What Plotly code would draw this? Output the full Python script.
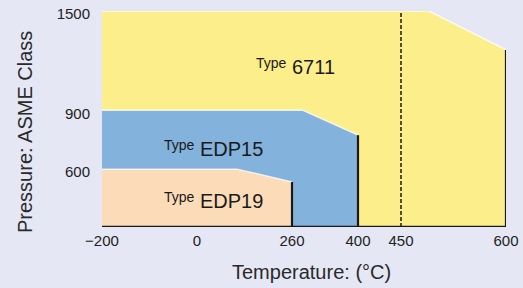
import numpy as np
import plotly.graph_objects as go

# ---------------- data ----------------
x_tick_vals = [-200, 0, 260, 400, 450, 600]          # temperature ticks (°C)
x_tick_text = ["−200", "0", "260", "400", "450", "600"]
y_tick_vals = [600, 900, 1500]                        # ASME class ticks
y_tick_text = ["600", "900", "1500"]
base_class = 300                                      # unlabeled bottom of chart

# envelope of each valve type: (temperature, pressure class)
type6711_temp = [-200, -200, 490, 600, 600]
type6711_pres = [300, 1500, 1500, 1265, 300]
edp15_temp = [-200, -200, 283, 400, 400]
edp15_pres = [300, 900, 900, 773, 300]
edp19_temp = [-200, -200, 110, 260, 260]
edp19_pres = [300, 600, 600, 533, 300]
dashed_temp = 450

labels = ["6711", "EDP15", "EDP19"]
label_temp = [156, -74, -74]
label_pres = [1185, 722, 455]

# ---------------- non-uniform scales of the original ----------------
X_KNOTS = [-200, 0, 260, 400, 450, 600]
X_POS = [0, 95, 190, 256, 299, 404]
Y_KNOTS = [300, 600, 900, 1500]
Y_POS = [0, 58, 117, 216.5]

def fx(t):
    return np.interp(t, X_KNOTS, X_POS)

def fy(p):
    return np.interp(p, Y_KNOTS, Y_POS)

YELLOW = "#fdee8c"
BLUE = "#83b2dc"
PEACH = "#fcdcb8"
BG = "#e5e7f4"
INK = "#1a1a1a"

fig = go.Figure()

for tx, pr, col in [(type6711_temp, type6711_pres, YELLOW),
                    (edp15_temp, edp15_pres, BLUE),
                    (edp19_temp, edp19_pres, PEACH)]:
    fig.add_trace(go.Scatter(x=fx(tx), y=fy(pr), fill="toself", fillcolor=col,
                             mode="lines", line=dict(width=0), hoverinfo="skip",
                             showlegend=False))
    # soft white highlight along the top edge
    fig.add_trace(go.Scatter(x=fx(tx[1:4]), y=fy(pr[1:4]), mode="lines",
                             line=dict(color="rgba(255,255,255,0.75)", width=1.5),
                             hoverinfo="skip", showlegend=False))

# dashed line at 450 °C
fig.add_trace(go.Scatter(x=fx([dashed_temp, dashed_temp]), y=fy([base_class, 1500]),
                         mode="lines", line=dict(color=INK, width=1.5, dash="4px,2px"),
                         hoverinfo="skip", showlegend=False))

# black right-hand limits of each envelope
for tx, pr in [(edp19_temp, edp19_pres), (edp15_temp, edp15_pres),
               (type6711_temp, type6711_pres)]:
    fig.add_trace(go.Scatter(x=fx(tx[3:5]), y=fy(pr[3:5]), mode="lines",
                             line=dict(color=INK, width=2.2), hoverinfo="skip",
                             showlegend=False))

# bottom baseline
fig.add_trace(go.Scatter(x=fx([-200, 600]), y=fy([base_class, base_class]), mode="lines",
                         line=dict(color=INK, width=2.5), hoverinfo="skip",
                         showlegend=False))

# region labels
for name, t, p in zip(labels, label_temp, label_pres):
    fig.add_annotation(x=fx(t), y=fy(p), xref="x", yref="y", text="Type",
                       showarrow=False, xanchor="left", yanchor="middle",
                       font=dict(size=14, color=INK, family="Liberation Sans"))
    fig.add_annotation(x=fx(t), y=fy(p), xref="x", yref="y", text=name,
                       showarrow=False, xanchor="left", yanchor="middle",
                       xshift=36, yshift=-4,
                       font=dict(size=20, color=INK, family="Liberation Sans"))

# axis titles
fig.add_annotation(x=(311 - 102) / 404, y=(227 - 272) / 216, xref="paper", yref="paper",
                   text="Temperature: (°C)", showarrow=False, xanchor="center",
                   yanchor="middle", font=dict(size=20, color="#2a2a2a"))
fig.add_annotation(x=(25 - 102) / 404, y=(227 - 132) / 216, xref="paper", yref="paper",
                   text="Pressure: ASME Class", showarrow=False, xanchor="center",
                   yanchor="middle", textangle=-90, font=dict(size=20, color="#2a2a2a"))

fig.update_xaxes(range=[0, 404], tickvals=fx(x_tick_vals), ticktext=x_tick_text,
                 showgrid=False, zeroline=False, showline=False, automargin=False,
                 ticks="outside", ticklen=0, tickcolor="rgba(0,0,0,0)",
                 tickfont=dict(size=15, color="#222"), fixedrange=True)
fig.update_yaxes(range=[0, 216.5], tickvals=fy(y_tick_vals), ticktext=y_tick_text,
                 showgrid=False, zeroline=False, showline=False, automargin=False,
                 ticks="outside", ticklen=8, tickcolor="rgba(0,0,0,0)",
                 ticklabelshift=3,
                 tickfont=dict(size=15, color="#222"), fixedrange=True)

fig.update_layout(width=523, height=288, margin=dict(l=102, r=17, t=11, b=61),
                  paper_bgcolor=BG, plot_bgcolor=BG,
                  font=dict(family="Liberation Sans"), showlegend=False)

fig.write_html("out.html", config={"displayModeBar": False},
               post_script="document.body.style.margin='0';"
                           "document.body.style.background='" + BG + "';")
